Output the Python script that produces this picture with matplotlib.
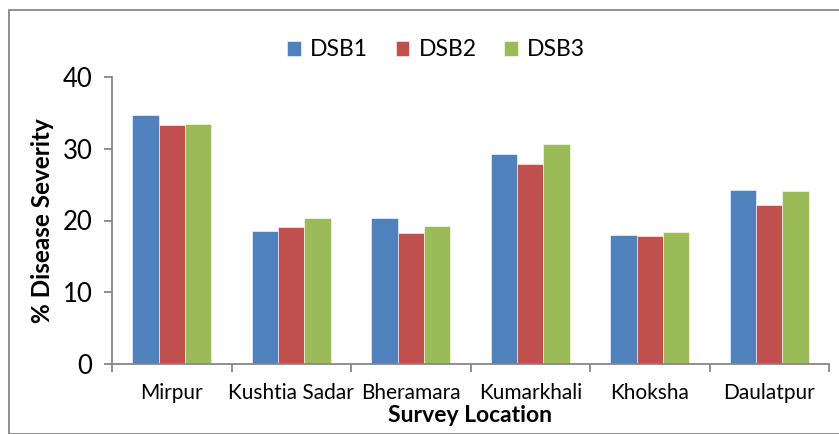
import matplotlib
matplotlib.use("Agg")
import matplotlib.pyplot as plt
import numpy as np
from matplotlib.patches import Rectangle

plt.rcParams['font.family'] = ['Lato', 'DejaVu Sans']

locations = ["Mirpur", "Kushtia Sadar", "Bheramara", "Kumarkhali", "Khoksha", "Daulatpur"]
dsb1 = [34.7, 18.6, 20.3, 29.3, 18.0, 24.2]
dsb2 = [33.3, 19.05, 18.25, 27.9, 17.8, 22.1]
dsb3 = [33.5, 20.3, 19.3, 30.6, 18.4, 24.1]
series_names = ["DSB1", "DSB2", "DSB3"]
colors = ["#4F81BD", "#C0504D", "#9BBB59"]
yticks = [0, 10, 20, 30, 40]

W, H = 839, 434
fig = plt.figure(figsize=(W/100, H/100), dpi=100)
ax = fig.add_axes([112/W, 1-364/H, (829-112)/W, (364-77)/H])

x = np.arange(len(locations))
bw = 0.221
for i, (vals, name, c) in enumerate(zip([dsb1, dsb2, dsb3], series_names, colors)):
    ax.bar(x + (i-1)*bw, vals, width=bw, color=c, label=name, edgecolor='white', linewidth=0.4, zorder=2)

ax.set_xlim(-0.5, len(locations)-0.5)
ax.set_ylim(0, 40)
ax.set_yticks(yticks)
ax.set_yticklabels([str(t) for t in yticks], fontsize=18.5)
ax.set_xticks(x)
ax.set_xticklabels(locations, fontsize=15)
ax.tick_params(axis='x', length=0, pad=14)
ax.set_xticks(np.arange(-0.5, len(locations)), minor=True)
ax.tick_params(axis='x', which='minor', length=6, color='#868686', width=1.3)
ax.tick_params(axis='y', length=6, color='#868686', width=1.3, pad=8)
for s in ['top', 'right']:
    ax.spines[s].set_visible(False)
for s in ['left', 'bottom']:
    ax.spines[s].set_color('#868686')
    ax.spines[s].set_linewidth(1.3)

ax.set_ylabel("% Disease Severity", fontsize=17.5, fontweight='bold', labelpad=6)
ax.set_xlabel("Survey Location", fontsize=16.5, fontweight='bold', labelpad=1)

leg = fig.legend(loc='center', bbox_to_anchor=(436/W, 1-50/H), ncol=3, frameon=False,
                 fontsize=16.5, handlelength=0.6, handleheight=0.6, columnspacing=1.2, handletextpad=0.4)

fig.patches.append(Rectangle((9/W, 0), 1, 1-10/H, transform=fig.transFigure, fill=False,
                             edgecolor='#868686', linewidth=1.3))

fig.savefig("out.png", dpi=100)
